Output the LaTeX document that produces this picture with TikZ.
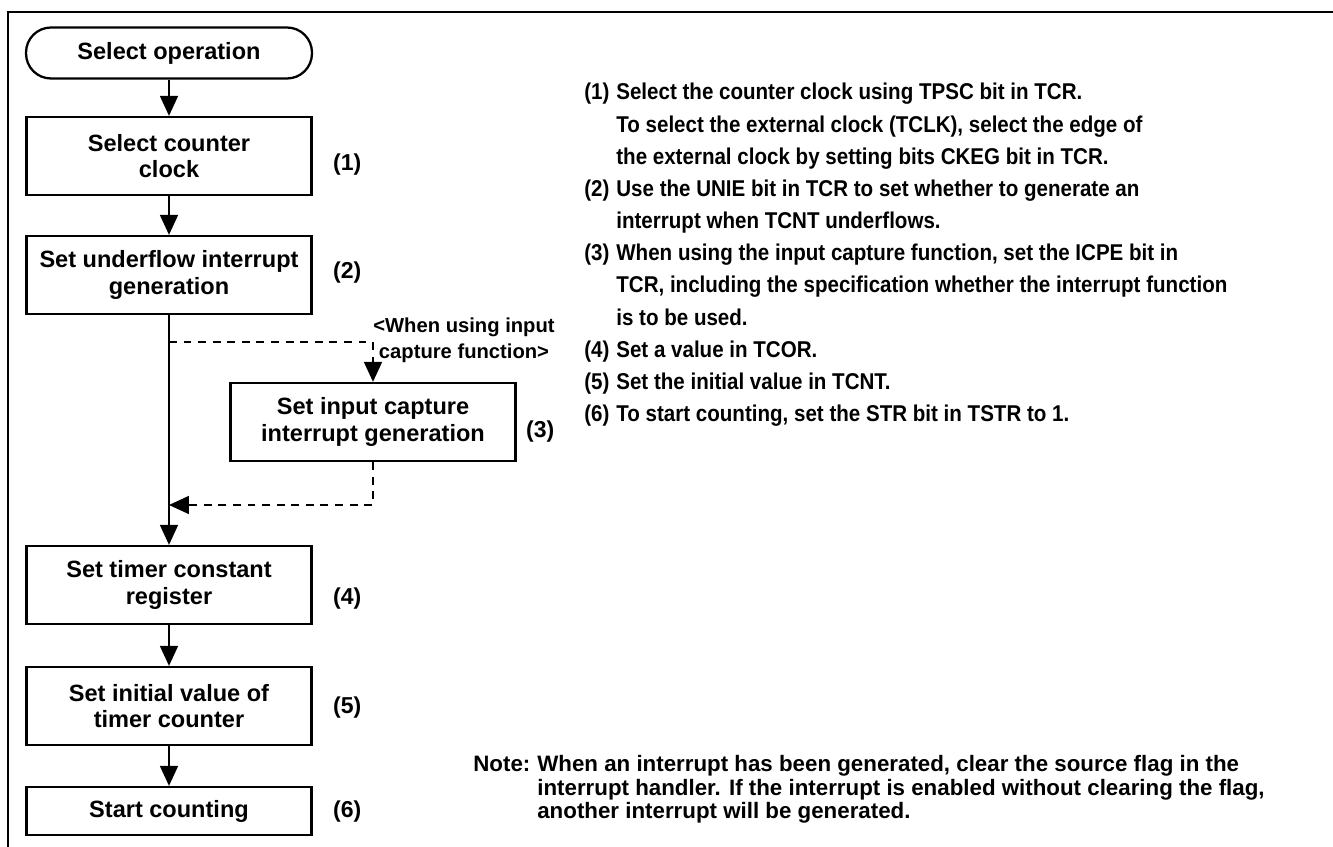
\documentclass[tikz,border=0pt]{standalone}
\usepackage{fontspec}
\setmainfont{Liberation Sans}
\newfontfamily\narrowfont[FakeStretch=0.9]{Liberation Sans}
\usetikzlibrary{arrows.meta}

\begin{document}
\begin{tikzpicture}[
  x=0.02cm, y=-0.02cm,
  boxtxt/.style={font=\fontsize{13.4}{15.2}\selectfont\bfseries, align=center},
  term/.style={boxtxt, draw, line width=1.3pt, rounded corners=0.5cm,
               minimum width=5.72cm, minimum height=1.02cm},
  proc/.style={boxtxt, draw, line width=1.3pt,
               minimum width=5.7cm, minimum height=1.56cm},
  tag/.style={font=\fontsize{13.1}{14}\selectfont\bfseries, anchor=west},
  desc/.style={font=\narrowfont\fontsize{13}{18.3}\selectfont\bfseries, inner sep=0pt, anchor=base west},
  flow/.style={line width=1pt, -{Triangle[length=0.4cm,width=0.36cm]}},
  opt/.style={dash pattern=on 4.5pt off 3.8pt}
]
\useasboundingbox (0,0) rectangle (1333,847);

% ---- frame (cut off at right and bottom) ----
\draw[line width=1.1pt] (8,847) -- (8,12) -- (1333,12);

% ---- flow chart ----
\node[term] (op)    at (169,53)  {Select operation};
\node[proc] (clk)   at (169,156) {Select counter\\clock};
\node[proc] (unf)   at (169,275) {Set underflow interrupt\\generation};
\node[proc] (icap)  at (373,422) {Set input capture\\interrupt generation};
\node[proc] (tcor)  at (169,585) {Set timer constant\\register};
\node[proc] (tcnt)  at (169,706) {Set initial value of\\timer counter};
\node[proc, minimum height=0.96cm] (start) at (169,811) {Start counting};

\draw[flow] (op) -- (clk);
\draw[flow] (clk) -- (unf);
\draw[flow] (unf) -- (tcor);
\draw[flow] (tcor) -- (tcnt);
\draw[flow] (tcnt) -- (start);

% optional branch
\coordinate (fork) at (169,342);
\coordinate (join) at (169,505);
\draw[flow,opt] (fork) -| (icap.north);
\draw[flow,opt] (icap.south) |- (join);
\node[font=\fontsize{11.5}{14.8}\selectfont\bfseries, align=center] (when) at (464,340)
  {<When using input\\capture function>};

% step numbers
\node[tag] (n1) at (327,165) {(1)};
\node[tag] (n2) at (327,273) {(2)};
\node[tag] (n3) at (520,432) {(3)};
\node[tag] (n4) at (327,599) {(4)};
\node[tag] (n5) at (327,708) {(5)};
\node[tag] (n6) at (327,812) {(6)};

% ---- explanation of the steps ----
\node[desc] (steps) at (584,100) {%
  \begin{tabular}[t]{@{}p{0.64cm}@{}l@{}}
  (1) & Select the counter clock using TPSC bit in TCR.\\
      & To select the external clock (TCLK), select the edge of\\
      & the external clock by setting bits CKEG bit in TCR.\\
  (2) & Use the UNIE bit in TCR to set whether to generate an\\
      & interrupt when TCNT underflows.\\
  (3) & When using the input capture function, set the ICPE bit in\\
      & TCR, including the specification whether the interrupt function\\
      & is to be used.\\
  (4) & Set a value in TCOR.\\
  (5) & Set the initial value in TCNT.\\
  (6) & To start counting, set the STR bit in TSTR to 1.
  \end{tabular}};

% ---- note ----
\node[desc, font=\fontsize{12.7}{13.1}\selectfont\bfseries] (note) at (473,772) {%
  \begin{tabular}[t]{@{}p{1.28cm}@{}l@{}}
  Note: & When an interrupt has been generated, clear the source flag in the\\
        & interrupt handler. If the interrupt is enabled without clearing the flag,\\
        & another interrupt will be generated.
  \end{tabular}};

\end{tikzpicture}
\end{document}
